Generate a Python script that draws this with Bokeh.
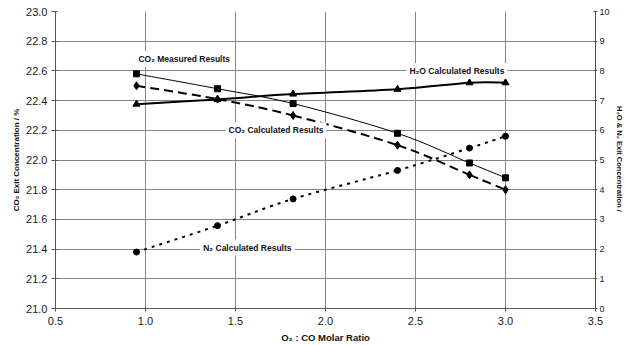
import numpy as np
from bokeh.plotting import figure
from bokeh.models import (Range1d, LinearAxis, FixedTicker, PrintfTickFormatter,
                          Label, ColumnDataSource, Grid)
from bokeh.embed import file_html
from bokeh.resources import INLINE

# O2 : CO molar ratios of the runs
ratio = [0.95, 1.40, 1.82, 2.40, 2.80, 3.00]

# CO2 exit concentration, % (left axis)
co2_measured = [22.58, 22.48, 22.38, 22.18, 21.98, 21.88]
co2_calculated = [22.50, 22.41, 22.30, 22.10, 21.90, 21.80]

# H2O and N2 exit concentration (right axis)
h2o_calculated = [6.88, 7.04, 7.22, 7.38, 7.60, 7.60]
n2_calculated = [1.90, 2.79, 3.69, 4.65, 5.40, 5.80]

x_ticks = [0.5, 1.0, 1.5, 2.0, 2.5, 3.0, 3.5]
left_ticks = [21.0, 21.2, 21.4, 21.6, 21.8, 22.0, 22.2, 22.4, 22.6, 22.8, 23.0]
right_ticks = [0, 1, 2, 3, 4, 5, 6, 7, 8, 9, 10]

LABEL_FONT = "'Liberation Sans', Arial, sans-serif"
TICK_FONT = "'Liberation Sans', Arial, sans-serif"

GRID = "#858585"
AXIS = "#555555"

p = figure(width=626, height=345, output_backend="svg", toolbar_location=None,
           x_range=Range1d(0.5, 3.5), y_range=Range1d(21.0, 23.0),
           min_border_left=55, min_border_right=25, min_border_top=11,
           min_border_bottom=37, y_axis_location=None, x_axis_location=None)
p.outline_line_color = None
p.background_fill_color = "white"
p.border_fill_color = "white"
p.extra_y_ranges = {"right": Range1d(0, 10)}


def style_axis(ax, size):
    ax.axis_line_color = AXIS
    ax.major_tick_line_color = AXIS
    ax.minor_tick_line_color = None
    ax.major_tick_in = 2
    ax.major_tick_out = 3
    ax.major_label_text_font = TICK_FONT
    ax.major_label_text_font_size = size
    ax.major_label_text_color = "#1a1a1a"
    ax.axis_label_text_font = LABEL_FONT
    ax.axis_label_text_font_style = "bold"
    ax.axis_label_text_color = "#111111"


xaxis = LinearAxis(ticker=FixedTicker(ticks=x_ticks),
                   formatter=PrintfTickFormatter(format="%.1f"),
                   axis_label="O₂ : CO Molar Ratio")
style_axis(xaxis, "11px")
xaxis.major_label_standoff = 5
xaxis.axis_label_standoff = 4
xaxis.axis_label_text_font_size = "9.5px"
p.add_layout(xaxis, "below")

yaxis = LinearAxis(ticker=FixedTicker(ticks=left_ticks),
                   formatter=PrintfTickFormatter(format="%.1f"),
                   axis_label="CO₂ Exit Concentration / %")
style_axis(yaxis, "11px")
yaxis.major_tick_out = 4
yaxis.major_label_standoff = 4
yaxis.axis_label_standoff = 2
yaxis.axis_label_text_font_size = "8px"
p.add_layout(yaxis, "left")

raxis = LinearAxis(y_range_name="right", ticker=FixedTicker(ticks=right_ticks),
                   axis_label="H₂O & N₂ Exit Concentration  /")
style_axis(raxis, "9px")
raxis.major_tick_out = 2
raxis.major_label_standoff = 2
raxis.axis_label_standoff = 2
raxis.axis_label_text_font_size = "7.5px"
p.add_layout(raxis, "right")

p.xgrid.visible = False
p.ygrid.visible = False
p.add_layout(Grid(dimension=0, ticker=FixedTicker(ticks=[1.0, 1.5, 2.0, 2.5, 3.0]),
                  grid_line_color=GRID, grid_line_width=1))
p.add_layout(Grid(dimension=1, ticker=FixedTicker(ticks=left_ticks[1:-1]),
                  grid_line_color=GRID, grid_line_width=1))


def smooth_segments(xs, ys):
    """Cubic Bezier segments through the points (Catmull-Rom style smoothing)."""
    x = np.asarray(xs, float)
    y = np.asarray(ys, float)
    n = len(x)
    seg = dict(x0=[], y0=[], x1=[], y1=[], cx0=[], cy0=[], cx1=[], cy1=[])
    for i in range(n - 1):
        a = max(i - 1, 0)
        b = min(i + 2, n - 1)
        seg["x0"].append(x[i]); seg["y0"].append(y[i])
        seg["x1"].append(x[i + 1]); seg["y1"].append(y[i + 1])
        seg["cx0"].append(x[i] + (x[i + 1] - x[a]) / 6)
        seg["cy0"].append(y[i] + (y[i + 1] - y[a]) / 6)
        seg["cx1"].append(x[i + 1] - (x[b] - x[i]) / 6)
        seg["cy1"].append(y[i + 1] - (y[b] - y[i]) / 6)
    return ColumnDataSource(seg)


def draw_curve(ys, width, dash="solid", range_name="default"):
    p.bezier(x0="x0", y0="y0", x1="x1", y1="y1", cx0="cx0", cy0="cy0",
             cx1="cx1", cy1="cy1", source=smooth_segments(ratio, ys),
             line_color="black", line_width=width, line_dash=dash,
             y_range_name=range_name)


# CO2 measured: thin solid line with squares
draw_curve(co2_measured, 1.0)
p.scatter(ratio, co2_measured, marker="square", size=6, color="black")

# CO2 calculated: heavy dashed line with diamonds
draw_curve(co2_calculated, 2.0, "9 5")
p.scatter(ratio, co2_calculated, marker="diamond", size=8, color="black")

# H2O calculated: heavy solid line with triangles
draw_curve(h2o_calculated, 2.0, range_name="right")
p.scatter(ratio, h2o_calculated, marker="triangle", size=7, color="black",
          y_range_name="right")

# N2 calculated: dotted line with circles
draw_curve(n2_calculated, 2.0, "3 5", range_name="right")
p.scatter(ratio, n2_calculated, marker="circle", size=6, color="black",
          y_range_name="right")

# Series annotations
notes = [
    ("CO₂ Measured Results", 1.215, 22.68),
    ("H₂O Calculated Results", 2.73, 22.60),
    ("CO₂ Calculated Results", 1.725, 22.20),
    ("N₂ Calculated Results", 1.566, 21.41),
]
for txt, nx, ny in notes:
    p.add_layout(Label(x=nx, y=ny, text=txt, text_align="center",
                       text_baseline="middle", text_font=LABEL_FONT,
                       text_font_style="bold", text_font_size="8.5px",
                       text_color="#111111", background_fill_color="white",
                       padding=3))

open("out.html", "w").write(file_html(p, INLINE))
